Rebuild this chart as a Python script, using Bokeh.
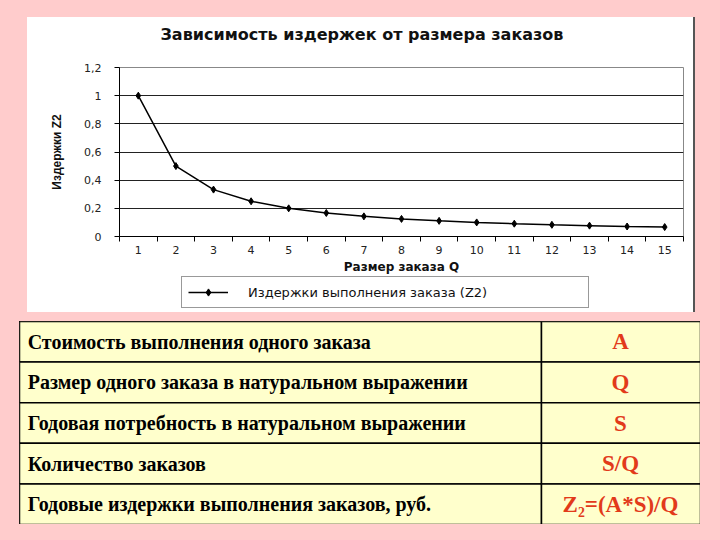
from bokeh.plotting import figure
from bokeh.layouts import column, row
from bokeh.models import (Range1d, FixedTicker, CustomJSTickFormatter, Legend, LegendItem,
                          ColumnDataSource, Title, Spacer)
from bokeh.core.properties import value
from bokeh.embed import file_html
from bokeh.resources import INLINE

# ---- data ----
order_size = [1, 2, 3, 4, 5, 6, 7, 8, 9, 10, 11, 12, 13, 14, 15]
costs_z2 = [1.0, 0.5, 0.333, 0.25, 0.2, 0.167, 0.143, 0.125, 0.111, 0.1,
            0.091, 0.083, 0.077, 0.071, 0.067]
y_ticks = [0, 0.2, 0.4, 0.6, 0.8, 1.0, 1.2]
chart_title = "Зависимость издержек от размера заказов"
x_label = "Размер заказа Q"
y_label = "Издержки Z2"
series_name = "Издержки выполнения заказа (Z2)"

row_names = ["Стоимость выполнения одного заказа",
             "Размер одного заказа в натуральном выражении",
             "Годовая потребность в натуральном выражении",
             "Количество заказов",
             "Годовые издержки выполнения заказов, руб."]
row_symbols = ["A", "Q", "S", "S/Q", "Z₂=(A*S)/Q"]

PINK = "#FFCCCC"
YELLOW = "#FFFFCC"
RED = "#E23A1A"
SANS = "DejaVu Sans"

# ---- chart ----
chart = figure(width=666, height=259, x_range=Range1d(0.5, 15.5), y_range=Range1d(0, 1.2),
               output_backend="svg", toolbar_location=None,
               min_border_left=92, min_border_right=10, min_border_top=50, min_border_bottom=38,
               background_fill_color="white", border_fill_color="white",
               outline_line_color="#888888", outline_line_width=1)

# empty spacer title (closest to the frame) pushes the real title upward
gap = Title(text=" ", text_font_size="1px", standoff=21)
chart.add_layout(gap, "above")
t = Title(text=chart_title, align="left", text_font=SANS,
          text_font_size="16px", text_font_style="bold", text_color="#111111",
          standoff=0, offset=41)
chart.add_layout(t, "above")

chart.xgrid.visible = False
chart.ygrid.ticker = FixedTicker(ticks=y_ticks)
chart.ygrid.grid_line_color = "#222222"
chart.ygrid.grid_line_width = 1

xa = chart.xaxis[0]
xa.ticker = FixedTicker(ticks=order_size, minor_ticks=[v - 0.5 for v in order_size] + [15.5])
xa.major_tick_out = 0
xa.major_tick_in = 0
xa.minor_tick_out = 5
xa.minor_tick_in = 0
xa.minor_tick_line_color = "black"
xa.axis_line_color = "black"
xa.major_label_standoff = 4
xa.major_label_text_font = SANS
xa.major_label_text_font_size = "11px"
xa.major_label_text_color = "#222222"
xa.axis_label = x_label
xa.axis_label_text_font = SANS
xa.axis_label_text_font_size = "12px"
xa.axis_label_text_font_style = "bold"
xa.axis_label_standoff = 3
xa.axis_label_text_color = "#111111"

ya = chart.yaxis[0]
ya.ticker = FixedTicker(ticks=y_ticks)
ya.formatter = CustomJSTickFormatter(code="return (Math.round(tick*10)/10).toString().replace('.', ',');")
ya.major_tick_out = 5
ya.major_tick_in = 0
ya.minor_tick_out = 0
ya.minor_tick_in = 0
ya.axis_line_color = "black"
ya.major_label_standoff = 13
ya.major_label_text_font = SANS
ya.major_label_text_font_size = "11px"
ya.major_label_text_color = "#222222"
ya.axis_label = y_label
ya.axis_label_text_font = "Liberation Sans"
ya.axis_label_text_font_size = "12px"
ya.axis_label_text_font_style = "bold"
ya.axis_label_standoff = 17
ya.axis_label_text_color = "#111111"

src = ColumnDataSource(data=dict(q=order_size, z=costs_z2))
chart.line("q", "z", source=src, line_color="black", line_width=1.5)
chart.scatter("q", "z", source=src, marker="diamond", size=7,
              fill_color="black", line_color="black")

# ---- legend strip (below the chart, transparent over the white panel) ----
leg_fig = figure(width=666, height=36, x_range=Range1d(0.5, 15.5), y_range=Range1d(10, 11),
                 output_backend="svg", toolbar_location=None,
                 x_axis_location=None, y_axis_location=None,
                 min_border_left=92, min_border_right=10, min_border_top=0, min_border_bottom=0,
                 background_fill_alpha=0, border_fill_alpha=0,
                 outline_line_color=None)
leg_fig.grid.visible = False
lr = leg_fig.line("q", "z", source=src, line_color="black", line_width=1.5)
mr = leg_fig.scatter("q", "z", source=src, marker="diamond", size=6,
                     fill_color="black", line_color="black")
legend = Legend(items=[LegendItem(label=series_name, renderers=[lr, mr])],
                location=(62, 4), margin=0, padding=6, glyph_width=40, glyph_height=18,
                label_height=18, label_width=334, label_standoff=20,
                label_text_font=SANS, label_text_font_size="13px", label_text_color="#111111",
                border_line_color="#333333", border_line_width=1,
                background_fill_color="white", background_fill_alpha=1)
leg_fig.add_layout(legend)

# ---- table ----
n = len(row_names)
table = figure(width=681, height=203, x_range=Range1d(0, 1), y_range=Range1d(n, 0),
               output_backend="svg", toolbar_location=None,
               x_axis_location=None, y_axis_location=None,
               min_border_left=0, min_border_right=0, min_border_top=0, min_border_bottom=0,
               background_fill_color=YELLOW, border_fill_color=YELLOW,
               outline_line_color="black", outline_line_width=2)
table.grid.visible = False

split = 0.7665
rows = list(range(n))
tsrc = ColumnDataSource(data=dict(
    top=rows, bottom=[r + 1 for r in rows], mid=[r + 0.5 for r in rows],
    name=row_names, sym=row_symbols))
table.quad(left=0, right=split, top="top", bottom="bottom", source=tsrc,
           fill_color=YELLOW, line_color="black", line_width=1.5)
table.quad(left=split, right=1, top="top", bottom="bottom", source=tsrc,
           fill_color=YELLOW, line_color="black", line_width=1.5)
table.text(x=0.012, y="mid", text="name", source=tsrc, text_font=value("Liberation Serif"),
           text_font_style="bold", text_font_size="20px", text_color="black",
           text_align="left", text_baseline="middle")
table.text(x=0.8825, y="mid", text="sym", source=tsrc, text_font=value("Liberation Serif"),
           text_font_style="bold", text_font_size="23px", text_color=RED,
           text_align="center", text_baseline="middle")

chart_col = column(chart, leg_fig, spacing=0, styles={"background-color": "white"})
top_row = row(Spacer(width=27, height=295), chart_col,
              Spacer(width=2, height=295, styles={"background-color": "#555555"}),
              Spacer(width=25, height=295))
bot_row = row(Spacer(width=19, height=203), table, Spacer(width=20, height=203))
layout = column(Spacer(width=720, height=17), top_row, Spacer(width=720, height=9), bot_row,
                Spacer(width=720, height=16), styles={"background-color": PINK})

open("out.html", "w").write(file_html(layout, INLINE))
